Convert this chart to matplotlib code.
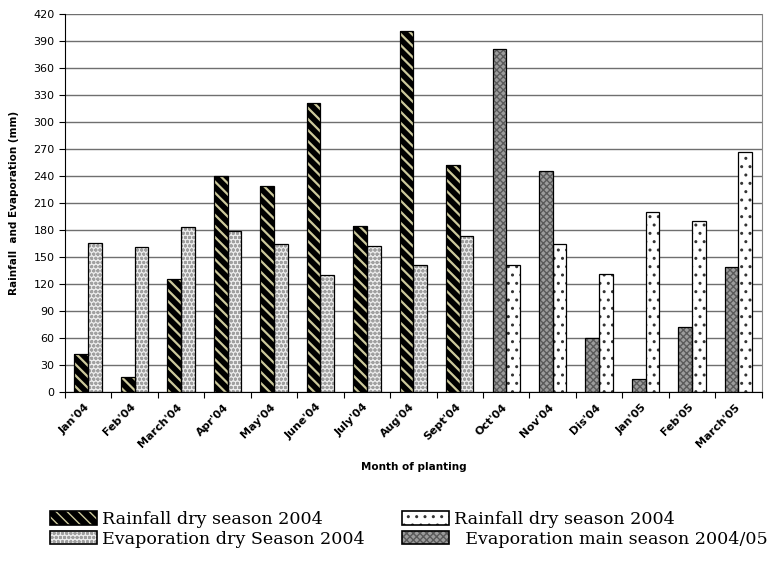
import numpy as np
import matplotlib.pyplot as plt
import matplotlib.transforms as mtransforms
from matplotlib.patches import Patch
from matplotlib.legend_handler import HandlerTuple

# --- data ---
months = ["Jan'04", "Feb'04", "March'04", "Apr'04", "May'04", "June'04",
          "July'04", "Aug'04", "Sept'04", "Oct'04", "Nov'04", "Dis'04",
          "Jan'05", "Feb'05", "March'05"]
rain_2004 = [42, 17, 126, 240, 229, 321, 184, 401, 252]
evap_2004 = [166, 161, 183, 179, 164, 130, 162, 141, 173]
rain_0405 = [381, 246, 60, 14, 72, 139]
evap_0405 = [141, 164, 131, 200, 190, 267]
yticks = list(range(0, 421, 30))

labels_col1 = ["Rainfall dry season 2004", "Evaporation dry Season 2004"]
labels_col2 = ["Rainfall dry season 2004", "  Evaporation main season 2004/05"]

fig = plt.figure(figsize=(7.78, 5.63), dpi=100)
ax = fig.add_axes([0.0835, 0.3037, 0.8955, 0.6713])

x = np.arange(len(months))
n1 = len(rain_2004)
x1, x2 = x[:n1], x[n1:]
w = 0.295

# (face, hatch colour, hatch, hatch lw) per series
styles = [
    ("black", "#cdc99c", "\\\\\\", 1.6),   # rainfall 2004
    ("#ececec", "#a0a0a0", "oooo", 1.0),   # evaporation 2004
    ("white", "#333333", "..", 1.0),       # right bars 2004/05
    ("#9c9c9c", "#5a5a5a", "xxxxx", 1.0),  # left bars 2004/05
]
series = [(x1 - w / 2, rain_2004), (x1 + w / 2, evap_2004),
          (x2 + w / 2, evap_0405), (x2 - w / 2, rain_0405)]

handles = []
for (pos, vals), (fc, hc, h, hlw) in zip(series, styles):
    with plt.rc_context({'hatch.linewidth': hlw}):
        ax.bar(pos, vals, w, color=fc, edgecolor=hc, hatch=h, linewidth=0, zorder=2)
        hp = Patch(facecolor=fc, edgecolor=hc, hatch=h, linewidth=0)
    ax.bar(pos, vals, w, fill=False, edgecolor="black", linewidth=0.9, zorder=3)
    handles.append((hp, Patch(fill=False, edgecolor="black", linewidth=1.2)))

ax.set_ylim(0, 420)
ax.set_xlim(-0.5, len(months) - 0.5)
ax.set_yticks(yticks)
ax.tick_params(axis='y', labelsize=8, length=4, width=0.8)
ax.yaxis.grid(True, color="#6f6f6f", linewidth=1.0, zorder=0)
ax.set_axisbelow(True)

ax.set_xticks(x)
ax.set_xticklabels(months, rotation=45, ha='right', rotation_mode='anchor',
                   fontsize=8, fontweight='bold')
ax.tick_params(axis='x', length=0, pad=7)
shift = mtransforms.ScaledTranslation(-4 / 100, 0, fig.dpi_scale_trans)
for lab in ax.get_xticklabels():
    lab.set_transform(lab.get_transform() + shift)
ax.set_xticks(np.arange(-0.5, len(months), 1), minor=True)
ax.tick_params(axis='x', which='minor', length=4, width=0.8)

ax.spines['right'].set_color("#888888")
ax.spines['top'].set_visible(False)

ax.set_ylabel("Rainfall  and Evaporation (mm)", fontsize=7.5, fontweight='bold',
              labelpad=10)
ax.set_xlabel("Month of planting", fontsize=7.5, fontweight='bold', labelpad=9)

leg_kw = dict(loc='upper left', frameon=False, borderpad=0, borderaxespad=0,
              prop={'family': 'DejaVu Serif', 'size': 12.6},
              handler_map={tuple: HandlerTuple(ndivide=1, pad=0)},
              handlelength=2.7, handleheight=0.8, handletextpad=0.3,
              labelspacing=0.15)

leg1 = fig.legend(handles[:2], labels_col1,
                  bbox_to_anchor=(50 / 778, 1 - 511 / 563), **leg_kw)
leg2 = fig.legend(handles[2:], labels_col2,
                  bbox_to_anchor=(402 / 778, 1 - 511 / 563), **leg_kw)

fig.savefig("out.png", dpi=100)
